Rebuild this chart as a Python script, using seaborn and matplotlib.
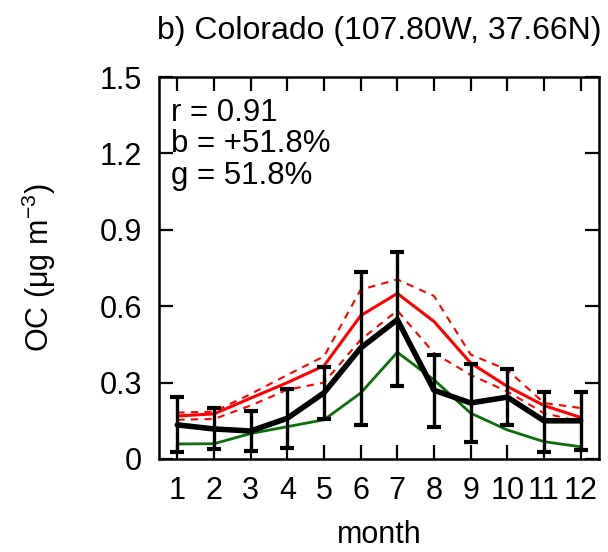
import numpy as np
import pandas as pd
import matplotlib
matplotlib.use("Agg")
import matplotlib.pyplot as plt
import seaborn as sns

months = list(range(1, 13))
obs_mean = [0.134, 0.118, 0.110, 0.160, 0.260, 0.436, 0.547, 0.270, 0.220, 0.243, 0.150, 0.150]
obs_upper = [0.245, 0.200, 0.190, 0.274, 0.363, 0.733, 0.812, 0.410, 0.373, 0.353, 0.265, 0.265]
obs_lower = [0.026, 0.038, 0.033, 0.045, 0.157, 0.134, 0.287, 0.125, 0.068, 0.134, 0.026, 0.035]
model_red = [0.169, 0.177, 0.239, 0.300, 0.366, 0.563, 0.650, 0.540, 0.377, 0.285, 0.210, 0.163]
red_upper = [0.182, 0.186, 0.255, 0.330, 0.403, 0.665, 0.705, 0.640, 0.410, 0.350, 0.220, 0.200]
red_lower = [0.154, 0.157, 0.210, 0.272, 0.300, 0.468, 0.583, 0.416, 0.330, 0.265, 0.180, 0.147]
model_green = [0.059, 0.060, 0.100, 0.127, 0.154, 0.259, 0.419, 0.311, 0.180, 0.114, 0.068, 0.048]

title = "b) Colorado (107.80W, 37.66N)"
stats_text = ["r = 0.91", "b = +51.8%", "g = 51.8%"]
yticks = [0, 0.3, 0.6, 0.9, 1.2, 1.5]
ytick_labels = ["0", "0.3", "0.6", "0.9", "1.2", "1.5"]

sns.set_style("ticks")
plt.rcParams['font.family'] = ['Liberation Sans', 'DejaVu Sans']
plt.rcParams['mathtext.default'] = 'regular'
for k in ['text.color', 'axes.labelcolor', 'xtick.color', 'ytick.color', 'axes.edgecolor']:
    plt.rcParams[k] = 'black'

df = pd.DataFrame({"month": months, "obs": obs_mean, "red": model_red,
                   "red_up": red_upper, "red_lo": red_lower, "green": model_green})

fig = plt.figure(figsize=(6.08, 5.52), dpi=100)
ax = fig.add_axes([159/608, 1-459/552, 440/608, 382/552])

sns.lineplot(data=df, x="month", y="red_up", ax=ax, color="red", lw=1.5, linestyle=(0, (3.5, 3)))
sns.lineplot(data=df, x="month", y="red_lo", ax=ax, color="red", lw=1.5, linestyle=(0, (3.5, 3)))
sns.lineplot(data=df, x="month", y="red", ax=ax, color="red", lw=2.2)
sns.lineplot(data=df, x="month", y="green", ax=ax, color="#0a6e0a", lw=2.0)

obs = np.array(obs_mean)
yerr = np.vstack([obs - np.array(obs_lower), np.array(obs_upper) - obs])
ax.errorbar(months, obs, yerr=yerr, fmt="none", ecolor="black", elinewidth=2.4,
            capsize=5, capthick=3, zorder=5)
sns.lineplot(data=df, x="month", y="obs", ax=ax, color="black", lw=4, zorder=6)

ax.set_xlim(0.5, 12.5)
ax.set_ylim(0, 1.5)
ax.set_xticks(months)
ax.set_xticklabels([str(m) for m in months])
ax.set_yticks(yticks)
ax.set_yticklabels(ytick_labels)
ax.tick_params(direction="in", length=10, width=1.6, labelsize=22, pad=12,
               top=True, right=True)
for s in ax.spines.values():
    s.set_linewidth(1.8)
    s.set_color("black")

ax.set_xlabel("month", fontsize=22, labelpad=10)
ax.set_ylabel("OC (μg m$^{-3}$)", fontsize=22, labelpad=30)
ax.set_title(title, fontsize=23, pad=27)

for i, t in enumerate(stats_text):
    ax.text(0.028, 0.945 - i * 0.082, t, transform=ax.transAxes, fontsize=22.5,
            va="top", ha="left")

fig.savefig("out.png", dpi=100)
